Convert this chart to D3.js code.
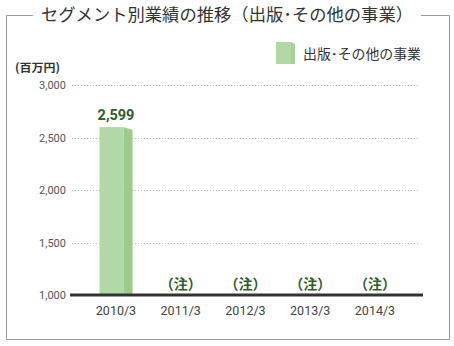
<!DOCTYPE html>
<html>
<head>
<meta charset="utf-8">
<script src="https://cdn.jsdelivr.net/npm/d3@7"></script>
<style>
  body { margin: 0; background: #fff; }
  text { font-family: "Noto Sans CJK JP", "Noto Sans", sans-serif; }
</style>
</head>
<body>
<div id="chart"></div>
<script>
// data
var years = ["2010/3", "2011/3", "2012/3", "2013/3", "2014/3"];
var sales = [2599, null, null, null, null];
var yTicks = [1000, 1500, 2000, 2500, 3000];
var noteLabel = "（注）";
var seriesName = "出版･その他の事業";
var title = "セグメント別業績の推移（出版･その他の事業）";

var width = 454, height = 346;

var svg = d3.select("#chart")
  .append("svg")
  .attr("width", width)
  .attr("height", height);

// frame with title
svg.append("path")
  .attr("d", "M33,15.5 H6.5 V339.5 H449.5 V15.5 H421")
  .attr("fill", "none")
  .attr("stroke", "#9a9a9a")
  .attr("stroke-width", 1);

svg.append("text")
  .attr("x", 41)
  .attr("y", 21)
  .attr("font-size", 17)
  .attr("fill", "#333")
  .attr("textLength", 372)
  .attr("lengthAdjust", "spacingAndGlyphs")
  .text(title);

// scales
var x = d3.scalePoint()
  .domain(years)
  .range([116, 375]);

var y = d3.scaleLinear()
  .domain([1000, 3000])
  .range([295, 85]);

// gridlines
svg.append("g")
  .selectAll("line")
  .data(yTicks.slice(1))
  .enter()
  .append("line")
  .attr("x1", 72)
  .attr("x2", 420)
  .attr("y1", function (d) { return Math.round(y(d)) + 0.5; })
  .attr("y2", function (d) { return Math.round(y(d)) + 0.5; })
  .attr("stroke", "#bbb")
  .attr("stroke-dasharray", "1,2");

// y tick labels
svg.append("g")
  .selectAll("text")
  .data(yTicks)
  .enter()
  .append("text")
  .attr("x", 66)
  .attr("y", function (d) { return y(d) + 4; })
  .attr("text-anchor", "end")
  .attr("font-size", 11)
  .attr("fill", "#555")
  .style("font-family", "'Liberation Sans Narrow', 'Roboto', sans-serif")
  .text(function (d) { return d3.format(",")(d); });

// unit
svg.append("text")
  .attr("x", 15)
  .attr("y", 72)
  .attr("font-size", 11.5)
  .attr("font-weight", "bold")
  .attr("fill", "#333")
  .attr("textLength", 45)
  .attr("lengthAdjust", "spacingAndGlyphs")
  .text("(百万円)");

// bars
var frontW = 24, sideW = 9;
var bars = svg.append("g")
  .selectAll("g")
  .data(years.map(function (d, i) { return { year: d, value: sales[i] }; }))
  .enter()
  .append("g");

bars.filter(function (d) { return d.value != null; })
  .append("rect")
  .attr("x", function (d) { return x(d.year) - (frontW + sideW) / 2; })
  .attr("y", function (d) { return y(d.value); })
  .attr("width", frontW)
  .attr("height", function (d) { return y(1000) - y(d.value); })
  .attr("fill", "#b2d8a6");

bars.filter(function (d) { return d.value != null; })
  .append("path")
  .attr("d", function (d) {
    var x0 = x(d.year) - (frontW + sideW) / 2 + frontW;
    var y0 = y(d.value);
    return "M" + x0 + "," + y0 + " L" + (x0 + sideW) + "," + (y0 + 3) +
      " V" + y(1000) + " H" + x0 + " Z";
  })
  .attr("fill", "#9dcb8c");

// value labels
bars.append("text")
  .attr("x", function (d) { return x(d.year); })
  .attr("y", function (d) { return d.value != null ? y(d.value) - 7 : y(1000) - 6; })
  .attr("text-anchor", "middle")
  .attr("font-size", function (d) { return d.value != null ? 14.5 : 14; })
  .attr("font-weight", "bold")
  .attr("fill", "#2f5d29")
  .style("font-family", function (d) {
    return d.value != null ? "'Liberation Sans Narrow', 'Roboto', sans-serif" : null;
  })
  .text(function (d) { return d.value != null ? d3.format(",")(d.value) : noteLabel; });

// baseline
svg.append("line")
  .attr("x1", 70)
  .attr("x2", 423)
  .attr("y1", y(1000))
  .attr("y2", y(1000))
  .attr("stroke", "#333")
  .attr("stroke-width", 3);

// x labels
svg.append("g")
  .selectAll("text")
  .data(years)
  .enter()
  .append("text")
  .attr("x", function (d) { return x(d); })
  .attr("y", 315)
  .attr("text-anchor", "middle")
  .attr("font-size", 12.5)
  .attr("fill", "#444")
  .style("font-family", "'Liberation Sans Narrow', 'Roboto', sans-serif")
  .text(function (d) { return d; });

// legend
svg.append("rect")
  .attr("x", 276)
  .attr("y", 42)
  .attr("width", 15)
  .attr("height", 22)
  .attr("fill", "#b2d8a6");
svg.append("path")
  .attr("d", "M291,42 L295,44 V64 H291 Z")
  .attr("fill", "#a5d096");
svg.append("text")
  .attr("x", 303)
  .attr("y", 59)
  .attr("font-size", 13.5)
  .attr("fill", "#333")
  .attr("textLength", 118)
  .attr("lengthAdjust", "spacingAndGlyphs")
  .text(seriesName);
</script>
</body>
</html>
